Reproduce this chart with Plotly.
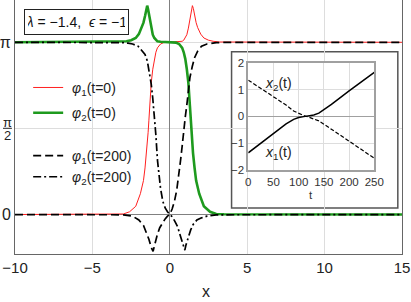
import math
import plotly.graph_objects as go

PI = math.pi

# ---------------- main panel data ----------------
x_phi1_t0 = [-10, -3.5, -3.0, -2.6, -2.2, -1.9, -1.7, -1.6, -1.5, -1.45, -1.4, -1.35, -1.3, -1.2, -1.1, -1.0, -0.9,
             -0.8, -0.6, -0.4, 0.0, 0.4, 0.6, 0.8, 0.9, 1.0, 1.1, 1.2, 1.3, 1.4, 1.46, 1.52, 1.6, 1.7, 1.8, 2.0, 2.2,
             2.5, 2.8, 3.2, 15]
phi1_t0 = [0.0, 0.005, 0.01, 0.05, 0.15, 0.38, 0.62, 0.85, 1.12, 1.3, 1.5, 1.72, 1.98, 2.4, 2.65, 2.84, 2.96,
           3.04, 3.11, 3.135, 3.1416, 3.145, 3.15, 3.16, 3.18, 3.22, 3.28, 3.40, 3.56, 3.74, 3.81, 3.76, 3.62, 3.50,
           3.41, 3.29, 3.22, 3.18, 3.16, 3.147, 3.1416]

x_phi2_t0 = [-10, -3.2, -2.8, -2.5, -2.2, -2.0, -1.8, -1.7, -1.6, -1.52, -1.46, -1.4, -1.3, -1.2, -1.1, -1.0, -0.9,
             -0.8, -0.6, -0.4, 0.0, 0.4, 0.6, 0.8, 0.9, 1.0, 1.1, 1.2, 1.3, 1.35, 1.4, 1.45, 1.5, 1.6, 1.7, 1.9,
             2.2, 2.6, 3.0, 3.5, 15]
phi2_t0 = [3.1416, 3.147, 3.16, 3.18, 3.22, 3.29, 3.41, 3.50, 3.62, 3.76, 3.81, 3.74, 3.56, 3.40, 3.28, 3.22, 3.18,
           3.16, 3.15, 3.145, 3.1416, 3.135, 3.11, 3.04, 2.96, 2.84, 2.65, 2.4, 1.98, 1.72, 1.5, 1.3, 1.12, 0.85,
           0.62, 0.38, 0.15, 0.05, 0.01, 0.005, 0.0]

x_phi1_t200 = [-10, -3.0, -2.4, -2.0, -1.7, -1.5, -1.35, -1.2, -1.08, -1.0, -0.9, -0.8, -0.65, -0.5, -0.3, -0.15,
               0.0, 0.15, 0.3, 0.45, 0.6, 0.7, 0.8, 0.9, 1.0, 1.1, 1.2, 1.3, 1.45, 1.6, 1.8, 2.05, 2.4, 2.7, 3.0,
               3.5, 15]
phi1_t200 = [0.0, -0.005, -0.03, -0.10, -0.2, -0.33, -0.45, -0.6, -0.67, -0.58, -0.46, -0.36, -0.24, -0.16, -0.08,
             -0.03, 0.0, 0.1, 0.24, 0.45, 0.75, 1.0, 1.25, 1.55, 1.78, 2.0, 2.24, 2.5, 2.7, 2.86, 2.98, 3.07, 3.11,
             3.125, 3.135, 3.14, 3.1416]

x_phi2_t200 = [-10, -3.5, -3.0, -2.7, -2.4, -2.05, -1.8, -1.6, -1.45, -1.3, -1.2, -1.1, -1.0, -0.9, -0.8, -0.7,
               -0.6, -0.45, -0.3, -0.15, 0.0, 0.15, 0.32, 0.5, 0.65, 0.8, 0.9, 0.97, 1.05, 1.18, 1.35, 1.51, 1.75,
               2.05, 2.4, 3.0, 15]
phi2_t200 = [3.1416, 3.14, 3.135, 3.125, 3.11, 3.07, 2.99, 2.92, 2.8, 2.58, 2.38, 2.12, 1.82, 1.45, 1.0, 0.7,
             0.48, 0.24, 0.12, 0.05, 0.0, -0.04, -0.12, -0.22, -0.36, -0.48, -0.57, -0.65, -0.55, -0.42, -0.28,
             -0.18, -0.1, -0.06, -0.03, -0.005, 0.0]

x_ticks = [-10, -5, 0, 5, 10, 15]
y_tickvals = [0, PI / 2, PI]
y_ticktext = ["0", "", "π"]

# ---------------- inset data ----------------
t_vals = [0, 25, 50, 75, 90, 100, 110, 120, 130, 140, 150, 165, 200, 225, 250]
x1_vals = [-1.36, -1.0, -0.64, -0.28, -0.11, -0.04, -0.01, 0.01, 0.05, 0.12, 0.24, 0.45, 0.95, 1.3, 1.64]
t_vals2 = [0, 25, 50, 75, 90, 100, 110, 120, 130, 140, 150, 175, 200, 225, 250]
x2_vals = [1.35, 1.04, 0.73, 0.42, 0.2, 0.1, 0.03, -0.03, -0.09, -0.17, -0.29, -0.6, -0.91, -1.22, -1.56]
inset_xticks = [0, 50, 100, 150, 200, 250]
inset_yticks = [-2, -1, 0, 1, 2]

GREEN = "#1e9a1e"
RED = "#ff2020"

fig = go.Figure()
fig.add_trace(go.Scatter(x=x_phi1_t0, y=phi1_t0, mode="lines", line=dict(color=RED, width=1),
                         name="\u00a0<i>φ</i><sub>1</sub>(t=0)", legend="legend", legendgroup="a"))
fig.add_trace(go.Scatter(x=x_phi2_t0, y=phi2_t0, mode="lines", line=dict(color=GREEN, width=2.6),
                         name="\u00a0<i>φ</i><sub>2</sub>(t=0)", legend="legend", legendgroup="b"))
fig.add_trace(go.Scatter(x=x_phi1_t200, y=phi1_t200, mode="lines",
                         line=dict(color="black", width=1.7, dash="8px,4px"),
                         name="\u00a0<i>φ</i><sub>1</sub>(t=200)", legend="legend2"))
fig.add_trace(go.Scatter(x=x_phi2_t200, y=phi2_t200, mode="lines",
                         line=dict(color="black", width=1.7, dash="8px,3px,2px,3px"),
                         name="\u00a0<i>φ</i><sub>2</sub>(t=200)", legend="legend2"))

# inset traces
fig.add_trace(go.Scatter(x=t_vals, y=x1_vals, mode="lines", line=dict(color="black", width=1.5),
                         xaxis="x2", yaxis="y2", showlegend=False))
fig.add_trace(go.Scatter(x=t_vals2, y=x2_vals, mode="lines", line=dict(color="black", width=1.2, dash="4px,2px"),
                         xaxis="x2", yaxis="y2", showlegend=False))

FONT = "Liberation Sans, Arial, sans-serif"

fig.update_layout(
    width=411, height=302,
    margin=dict(l=15, r=9, t=0, b=48, autoexpand=False),
    paper_bgcolor="white", plot_bgcolor="white",
    font=dict(family=FONT, color="#222"),
    xaxis=dict(range=[-10, 15], tickvals=x_ticks, ticks="", showgrid=True, gridcolor="#dddddd",
               zeroline=True, zerolinecolor="#808080", zerolinewidth=1, automargin=False,
               showline=True, linecolor="#666", linewidth=1, mirror=True,
               tickfont=dict(size=15, color="#222")),
    yaxis=dict(range=[-0.72, 3.913], tickvals=y_tickvals, ticktext=y_ticktext, ticks="",
               showgrid=True, gridcolor="#dddddd", automargin=False,
               zeroline=True, zerolinecolor="#808080", zerolinewidth=1,
               showline=True, linecolor="#666", linewidth=1, mirror=True,
               tickfont=dict(size=16, color="#222")),
    xaxis2=dict(domain=[0.6028, 0.9284], anchor="y2", range=[0, 250], tickvals=inset_xticks, ticks="",
                showgrid=True, gridcolor="#dddddd", zeroline=False, automargin=False,
                showline=True, linecolor="#a0a0a0", linewidth=1.5, mirror=True,
                tickfont=dict(size=11.5, color="#333")),
    yaxis2=dict(domain=[0.3307, 0.7531], anchor="x2", range=[-2, 2], tickvals=inset_yticks, ticks="",
                showgrid=True, gridcolor="#dddddd", zeroline=True, zerolinecolor="#a0a0a0", zerolinewidth=1,
                showline=True, linecolor="#a0a0a0", linewidth=1.5, mirror=True, automargin=False,
                tickfont=dict(size=11.5, color="#333")),
    legend=dict(x=0.034, y=0.717, xanchor="left", yanchor="top", bgcolor="rgba(0,0,0,0)",
                font=dict(size=14, color="#222"), tracegroupgap=4, traceorder="grouped"),
    legend2=dict(x=0.034, y=0.449, xanchor="left", yanchor="top", bgcolor="rgba(0,0,0,0)",
                 font=dict(size=14, color="#222")),
    showlegend=True,
)

# white inset frame (drawn under traces, over main grid)
fig.add_shape(type="rect", xref="x", yref="y", x0=3.99, x1=14.73, y0=0.119, y1=2.97,
              line=dict(color="#555", width=1.5), fillcolor="white", layer="below")

# parameter box
fig.add_annotation(xref="paper", yref="paper", x=0.159, y=0.913, xanchor="center", yanchor="middle",
                   text="<i>λ</i> = −1.4,\u00a0\u00a0<i>ϵ</i> = −1", showarrow=False,
                   font=dict(size=14, color="#111"), bordercolor="#222", borderwidth=1, borderpad=3,
                   bgcolor="white", width=97, height=18)

# axis titles
fig.add_annotation(xref="paper", yref="paper", x=(206 - 15) / 387, y=(254 - 291) / 254, text="x",
                   showarrow=False, font=dict(size=16, color="#222"), xanchor="center", yanchor="middle")
fig.add_annotation(xref="x2", yref="paper", x=125, y=(254 - 195) / 254, text="t",
                   showarrow=False, font=dict(size=11.5, color="#333"), xanchor="center", yanchor="middle")

# pi/2 tick label as a stacked fraction
fig.add_annotation(xref="paper", yref="paper", x=-0.02, y=(254 - 122) / 254, text="π", showarrow=False,
                   font=dict(size=13, color="#222"), xanchor="center", yanchor="middle")
fig.add_annotation(xref="paper", yref="paper", x=-0.02, y=(254 - 136) / 254, text="2", showarrow=False,
                   font=dict(size=13, color="#222"), xanchor="center", yanchor="middle")
fig.add_shape(type="line", xref="paper", yref="paper", x0=-0.031, x1=-0.008, y0=(254 - 128.3) / 254,
              y1=(254 - 128.3) / 254, line=dict(color="#222", width=1))

# inset curve labels
fig.add_annotation(xref="x2", yref="y2", x=59, y=1.22, text="<i>x</i><sub>2</sub>(t)", showarrow=False,
                   font=dict(size=14, color="#222"))
fig.add_annotation(xref="x2", yref="y2", x=59, y=-1.35, text="<i>x</i><sub>1</sub>(t)", showarrow=False,
                   font=dict(size=14, color="#222"))

fig.write_html("out.html", config={"displayModeBar": False},
               post_script="document.body.style.margin='0px';")
